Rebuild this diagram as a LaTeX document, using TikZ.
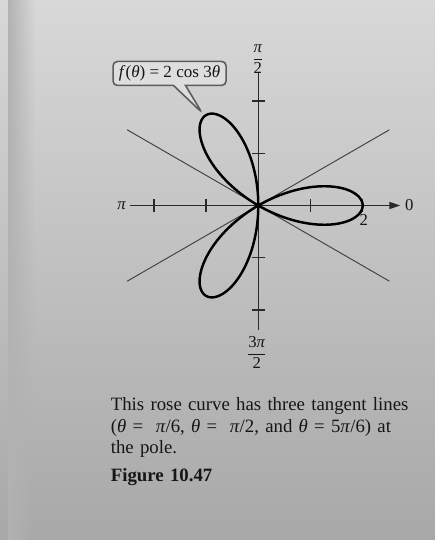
\documentclass[tikz,border=0pt]{standalone}
\usepackage{fontspec}
\setmainfont{Liberation Serif}
\usetikzlibrary{arrows.meta,shapes.callouts,fadings}
\definecolor{roseInk}{HTML}{161616}
\definecolor{roseAxis}{HTML}{2A2A2A}
\definecolor{roseTangent}{HTML}{434343}
\definecolor{pageTop}{HTML}{D8D8D8}
\definecolor{pageMid}{HTML}{CACACA}
\definecolor{pageBottom}{HTML}{A8A8A8}
\definecolor{pageEdge}{HTML}{B2B2B2}
\definecolor{calloutFill}{HTML}{DEDEDE}
\definecolor{calloutEdge}{HTML}{5C5C5C}
\tikzset{
  rose/label/.style={font=\fontsize{9.5}{11}\selectfont, text=roseInk,
    inner sep=2.5pt},
  rose/axis/.style={draw=roseAxis, line width=0.75pt},
  rose/arrow/.style={rose/axis, -{Triangle[length=2.2mm,width=1.4mm]}},
  rose/tick/.style={draw=roseAxis, line width=0.85pt},
  rose/tangent/.style={draw=roseTangent, line width=0.55pt},
  rose/curve/.style={draw=black, line width=1.4pt, line join=round},
  rose/callout/.style={rectangle callout, rounded corners=2.5pt,
    draw=calloutEdge, fill=calloutFill, line width=0.9pt,
    font=\fontsize{9.7}{11}\selectfont, text=roseInk,
    minimum width=2.26cm, minimum height=0.48cm, inner sep=1pt,
    callout pointer width=0.24cm},
  rose/caption/.style={font=\fontsize{10.7}{12.3}\selectfont, text=roseInk,
    text width=6.6cm, align=left, inner sep=0pt},
}
\newcommand{\polfrac}[2]{$\displaystyle\frac{\mbox{#1}}{\mbox{#2}}$}

\begin{document}
\begin{tikzpicture}
% page of the book
\useasboundingbox (0,0) rectangle (8.7,10.8);
\shade[top color=pageTop, middle color=pageMid, bottom color=pageBottom]
  (0,0) rectangle (8.7,10.8);
\fill[pageEdge, path fading=east] (0.16,0) rectangle (0.7,10.8);

\begin{scope}[shift={(5.166,6.69)}, x=1.044cm, y=1.044cm]
% tangent lines at the pole
\draw[rose/tangent] (150:2.9) -- (-30:2.9);
\draw[rose/tangent] (210:2.9) -- (30:2.9);

% polar axes
\node[rose/label] (pi) at (-2.62,0) {\itshape π};
\node[rose/label, anchor=west] (zero) at (2.72,0) {0};
\draw[rose/arrow] (pi) -- (zero);
\draw[rose/axis] (0,2.53) -- (0,-2.38);
\foreach \t in {-2,-1,1,2} {
  \draw[rose/tick] (\t,-0.12) -- (\t,0.12);
  \draw[rose/tick] (-0.12,\t) -- (0.12,\t);
}
\node[rose/label] (half) at (-0.01,2.80) {\polfrac{\itshape π}{2}};
\node[rose/label] (threehalf) at (-0.03,-2.82) {\polfrac{3\itshape π}{2}};

% rose curve
\draw[rose/curve] plot[domain=0:180, samples=241, smooth]
  ({2*cos(3*\x)*cos(\x)}, {2*cos(3*\x)*sin(\x)}) -- cycle;
\node[rose/label] (two) at (2.02,-0.28) {2};

\coordinate (tip) at (-1.08,1.78);
\node[rose/callout, callout absolute pointer={(tip)}] (formula) at (-1.70,2.53)
  {\textit{f}(\textit{θ}) = 2 cos 3\textit{θ}};
\end{scope}

\node[rose/caption, anchor=base west] (caption) at (2.21,2.586)
  {This rose curve has three tangent lines\\
   (\textit{θ} = \ \textit{π}/6, \textit{θ} = \ \textit{π}/2, and \textit{θ} = 5\textit{π}/6) at\\
   the pole.\\[3.5pt]
   \textbf{Figure 10.47}};
\end{tikzpicture}
\end{document}
